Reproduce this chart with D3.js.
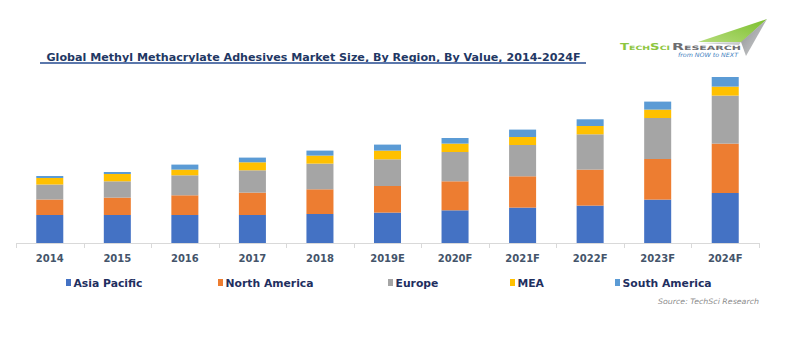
<!DOCTYPE html>
<html>
<head>
<meta charset="utf-8">
<script src="https://cdn.jsdelivr.net/npm/d3@7/dist/d3.min.js"></script>
<style>
  html, body { margin: 0; padding: 0; background: #ffffff; }
  svg { display: block; }
</style>
</head>
<body>
<svg id="chart" width="800" height="356"></svg>
<script>
// ---- data ----
const categories = ["2014", "2015", "2016", "2017", "2018", "2019E", "2020F", "2021F", "2022F", "2023F", "2024F"];
const seriesNames = ["Asia Pacific", "North America", "Europe", "MEA", "South America"];
const asiaPacific   = [28.0, 28.0, 28.0, 28.0, 29.0, 30.4, 32.7, 35.4, 37.4, 43.4, 50.0];
const northAmerica  = [15.5, 17.4, 19.7, 22.4, 24.7, 26.6, 29.0, 31.3, 36.0, 40.6, 49.4];
const europe        = [15.0, 16.3, 20.0, 22.3, 25.7, 26.7, 29.3, 31.3, 35.3, 41.0, 48.0];
const mea           = [6.5, 7.3, 5.7, 8.0, 8.0, 8.7, 8.4, 8.0, 8.3, 8.4, 9.0];
const southAmerica  = [2.0, 2.0, 5.0, 4.7, 5.0, 6.0, 5.6, 7.4, 6.7, 8.0, 9.6];
const titleText = "Global Methyl Methacrylate Adhesives Market Size, By Region, By Value, 2014-2024F";
const sourceText = "Source: TechSci Research";

// ---- styles / layout ----
const colors = ["#4472c4", "#ed7d31", "#a5a5a5", "#ffc000", "#5b9bd5"];
const legendX = [66, 218, 388, 510, 615];

const seriesValues = [asiaPacific, northAmerica, europe, mea, southAmerica];
const rows = categories.map((c, i) => {
  const r = { cat: c };
  seriesNames.forEach((s, j) => r[s] = seriesValues[j][i]);
  return r;
});
const stacked = d3.stack().keys(seriesNames)(rows);

const svg = d3.select("#chart");
const baseY = 243;

const x = d3.scaleBand().domain(categories).range([16, 759]).paddingInner(0.6).paddingOuter(0.3);
const y = d3.scaleLinear().domain([0, 170]).range([baseY, baseY - 170]);

// bars
svg.append("g").selectAll("g").data(stacked).join("g")
  .attr("fill", (d, i) => colors[i])
  .selectAll("rect").data(d => d).join("rect")
  .attr("x", d => x(d.data.cat))
  .attr("width", x.bandwidth())
  .attr("y", d => y(d[1]))
  .attr("height", d => y(d[0]) - y(d[1]));

// axis
const step = x.step();
const gap = step * x.paddingInner();
svg.append("line")
  .attr("x1", x.range()[0]).attr("x2", x.range()[1])
  .attr("y1", baseY + 0.5).attr("y2", baseY + 0.5)
  .attr("stroke", "#d9d9d9").attr("stroke-width", 1);
const bounds = categories.map(c => x(c) - gap / 2).concat([x(categories[categories.length - 1]) + x.bandwidth() + gap / 2]);
svg.append("g").selectAll("line").data(bounds).join("line")
  .attr("x1", d => Math.round(d) + 0.5).attr("x2", d => Math.round(d) + 0.5)
  .attr("y1", baseY).attr("y2", baseY + 5)
  .attr("stroke", "#d9d9d9");

const axis = svg.append("g").attr("transform", `translate(0,${baseY})`)
  .call(d3.axisBottom(x).tickSize(0).tickPadding(12));
axis.select(".domain").remove();
axis.selectAll("text")
  .attr("fill", "#44546a")
  .style("font-family", "'DejaVu Sans', Verdana, sans-serif")
  .style("font-weight", "bold")
  .style("font-size", "10px");

// title
const title = svg.append("text")
  .attr("x", 46.5).attr("y", 60.5)
  .attr("fill", "#1f3864")
  .style("font-family", "'DejaVu Sans', Verdana, sans-serif")
  .style("font-weight", "bold")
  .style("font-size", "10.5px")
  .attr("textLength", 534)
  .attr("lengthAdjust", "spacingAndGlyphs")
  .text(titleText);
svg.append("line")
  .attr("x1", 40).attr("x2", 586).attr("y1", 63).attr("y2", 63)
  .attr("stroke", "#5b77ab").attr("stroke-width", 2);

// legend
const lg = svg.append("g").selectAll("g").data(seriesNames).join("g")
  .attr("transform", (d, i) => `translate(${legendX[i]},0)`);
lg.append("rect").attr("x", 0).attr("y", 279).attr("width", 5).attr("height", 7)
  .attr("fill", (d, i) => colors[i]);
lg.append("text").attr("x", 7.5).attr("y", 287.3)
  .attr("fill", "#1f2f5f")
  .style("font-family", "'DejaVu Sans', Verdana, sans-serif")
  .style("font-weight", "bold")
  .style("font-size", "10.8px")
  .text(d => d);

// source
svg.append("text")
  .attr("x", 759).attr("y", 303.5)
  .attr("text-anchor", "end")
  .attr("fill", "#8c8c8c")
  .style("font-family", "'DejaVu Sans', sans-serif")
  .style("font-style", "italic")
  .style("font-size", "7.5px")
  .attr("textLength", 101)
  .attr("lengthAdjust", "spacingAndGlyphs")
  .text(sourceText);

// logo
const defs = svg.append("defs");
const gr = defs.append("linearGradient").attr("id", "lgGray").attr("x1", "0").attr("y1", "0").attr("x2", "1").attr("y2", "1");
gr.append("stop").attr("offset", "0").attr("stop-color", "#8a8c8e");
gr.append("stop").attr("offset", "1").attr("stop-color", "#d4d6d8");
const gg = defs.append("linearGradient").attr("id", "lgGreen").attr("x1", "0").attr("y1", "1").attr("x2", "1").attr("y2", "0");
gg.append("stop").attr("offset", "0").attr("stop-color", "#b5dc7a");
gg.append("stop").attr("offset", "1").attr("stop-color", "#7cbf2e");
svg.append("polygon").attr("points", "698,42 767,19 742,42").attr("fill", "url(#lgGreen)");
svg.append("polygon").attr("points", "741,42 767,19 746,56").attr("fill", "url(#lgGray)");
svg.append("polygon").attr("points", "700,43 741,42 739,45").attr("fill", "#c9cbcd");

const logo = svg.append("text").attr("x", 620).attr("y", 49.5)
  .style("font-family", "'DejaVu Sans', sans-serif")
  .style("font-weight", "bold")
  .style("font-size", "8.5px")
  .style("font-variant", "small-caps");
logo.append("tspan").attr("fill", "#8dc63f").attr("textLength", 50).attr("lengthAdjust", "spacingAndGlyphs").text("TechSci");
logo.append("tspan").attr("x", 672).attr("fill", "#6d6e71").attr("textLength", 69).attr("lengthAdjust", "spacingAndGlyphs").text("Research");
svg.append("text").attr("x", 678).attr("y", 57)
  .attr("fill", "#3f7fc0")
  .style("font-family", "'DejaVu Sans', sans-serif")
  .style("font-style", "italic")
  .style("font-size", "6px")
  .attr("textLength", 60)
  .attr("lengthAdjust", "spacingAndGlyphs")
  .text("from NOW to NEXT");
</script>
</body>
</html>
